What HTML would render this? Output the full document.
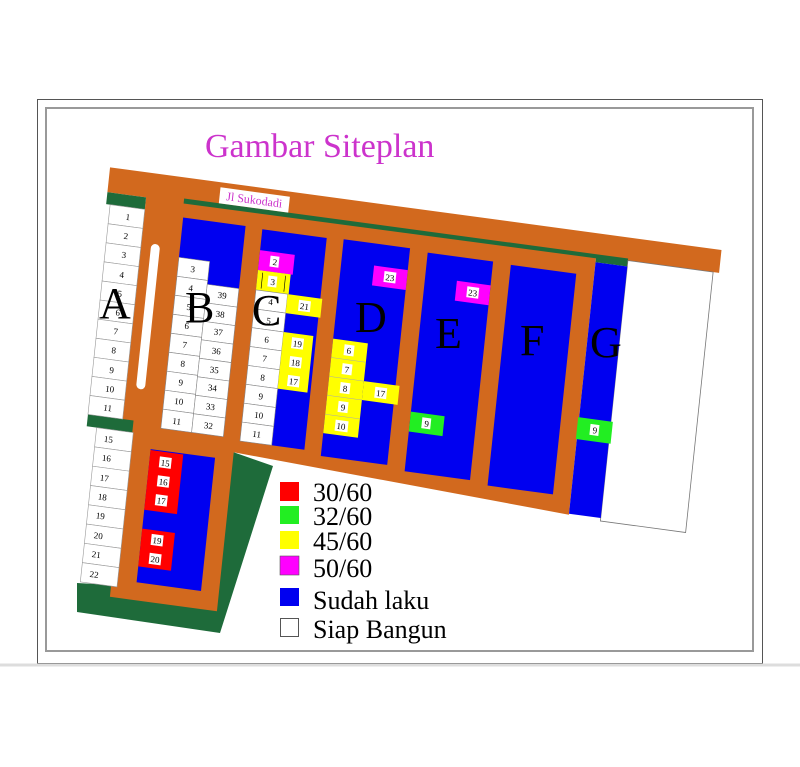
<!DOCTYPE html>
<html><head><meta charset="utf-8"><style>
html,body{margin:0;padding:0;background:#fff;}
svg{display:block;}
text{font-family:"Liberation Serif",serif;}
</style></head><body>
<svg width="800" height="767" viewBox="0 0 800 767" xmlns="http://www.w3.org/2000/svg">
<rect x="0" y="0" width="800" height="767" fill="#fff"/>
<!-- frame -->
<rect x="37.5" y="99.5" width="725" height="564" fill="none" stroke="#555" stroke-width="1"/>
<rect x="46" y="108" width="707" height="543" fill="none" stroke="#999" stroke-width="2"/>
<line x1="0" y1="665" x2="800" y2="665" stroke="#ddd" stroke-width="3"/>
<text x="205" y="157" font-size="34" fill="#cc33cc">Gambar Siteplan</text>

<!-- green bottom -->
<polygon points="77,583 112,585 233,452 273,466 220,633 77,612" fill="#1e6b3a"/>

<g transform="matrix(0.991,0.134,-0.105,0.994,115,168)">
  <!-- orange body -->
  <polygon points="-5,0 612,0 612,23 488,23 488,283 148,266 148,426 40,426 40,258 34,258 34,25 -5,25" fill="#d2691e"/>
  <!-- green strips -->
  <rect x="-5" y="25" width="39" height="12" fill="#1e6b3a"/>
  <rect x="-1" y="248" width="46" height="12" fill="#1e6b3a"/>
  <rect x="488" y="23" width="32" height="6" fill="#1e6b3a"/>
  <polygon points="72,21 520,21 520,25 72,26" fill="#1e6b3a"/>
  <!-- white area right -->
  <rect x="520" y="23" width="86" height="262" fill="#fff" stroke="#777" stroke-width="0.8"/>
  <!-- Jl Sukodadi -->
  <rect x="107" y="5" width="70" height="16" fill="#fff"/>
  <text x="142" y="17" font-size="12" fill="#cc33cc" text-anchor="middle">Jl Sukodadi</text>
  <!-- pill -->
  <rect x="44" y="70" width="9" height="146" rx="4.5" fill="#fff"/>

  <!-- A column lots -->
  <g fill="#fff" stroke="#999" stroke-width="0.6">
    <rect x="-1" y="37" width="35" height="19.2"/><rect x="-1" y="56.2" width="35" height="19.2"/>
    <rect x="-1" y="75.4" width="35" height="19.2"/><rect x="-1" y="94.6" width="35" height="19.2"/>
    <rect x="-1" y="113.8" width="35" height="19.2"/><rect x="-1" y="133" width="35" height="19.2"/>
    <rect x="-1" y="152.2" width="35" height="19.2"/><rect x="-1" y="171.4" width="35" height="19.2"/>
    <rect x="-1" y="190.6" width="35" height="19.2"/><rect x="-1" y="209.8" width="35" height="19.2"/>
    <rect x="-1" y="229" width="35" height="19"/>
  </g>
  <g fill="#fff" stroke="#999" stroke-width="0.6" transform="translate(6,0)">
    <rect x="3" y="260" width="37" height="19.4"/><rect x="3" y="279.4" width="37" height="19.4"/>
    <rect x="3" y="298.8" width="37" height="19.4"/><rect x="3" y="318.2" width="37" height="19.4"/>
    <rect x="3" y="337.6" width="37" height="19.4"/><rect x="3" y="357" width="37" height="19.4"/>
    <rect x="3" y="376.4" width="37" height="19.4"/><rect x="3" y="395.8" width="37" height="19.4"/>
  </g>
  <g font-size="9" fill="#000" text-anchor="middle">
    <text x="18" y="50">1</text><text x="18" y="69">2</text><text x="18" y="88">3</text><text x="18" y="108">4</text>
    <text x="18" y="127">5</text><text x="18" y="146">6</text><text x="18" y="165">7</text><text x="18" y="184">8</text>
    <text x="18" y="204">9</text><text x="18" y="223">10</text><text x="18" y="242">11</text>
    <text x="22" y="273">15</text><text x="22" y="292">16</text><text x="22" y="312">17</text><text x="22" y="331">18</text>
    <text x="22" y="350">19</text><text x="22" y="370">20</text><text x="22" y="389">21</text><text x="22" y="409">22</text>
  </g>

  <!-- B block -->
  <rect x="73" y="40" width="63" height="212" fill="#0000f0"/>
  <g fill="#fff" stroke="#888" stroke-width="0.6">
    <rect x="73" y="80" width="31" height="19.1"/><rect x="73" y="99.1" width="31" height="19.1"/>
    <rect x="73" y="118.2" width="31" height="19.1"/><rect x="73" y="137.3" width="31" height="19.1"/>
    <rect x="73" y="156.4" width="31" height="19.1"/><rect x="73" y="175.5" width="31" height="19.1"/>
    <rect x="73" y="194.6" width="31" height="19.1"/><rect x="73" y="213.7" width="31" height="19.1"/>
    <rect x="73" y="232.8" width="31" height="19.2"/>
    <rect x="104" y="103" width="32" height="18.6"/><rect x="104" y="121.6" width="32" height="18.6"/>
    <rect x="104" y="140.2" width="32" height="18.6"/><rect x="104" y="158.8" width="32" height="18.6"/>
    <rect x="104" y="177.4" width="32" height="18.6"/><rect x="104" y="196" width="32" height="18.6"/>
    <rect x="104" y="214.6" width="32" height="18.6"/><rect x="104" y="233.2" width="32" height="18.8"/>
  </g>
  <g font-size="9" fill="#000" text-anchor="middle">
    <text x="88" y="93">3</text><text x="88" y="112">4</text><text x="88" y="131">5</text><text x="88" y="150">6</text>
    <text x="88" y="169">7</text><text x="88" y="188">8</text><text x="88" y="207">9</text><text x="88" y="226">10</text><text x="88" y="246">11</text>
    <text x="120" y="115">39</text><text x="120" y="134">38</text><text x="120" y="152">37</text><text x="120" y="171">36</text>
    <text x="120" y="190">35</text><text x="120" y="208">34</text><text x="120" y="227">33</text><text x="120" y="246">32</text>
  </g>

  <!-- C block -->
  <rect x="153" y="41" width="65" height="213" fill="#0000f0"/>
  <rect x="153" y="62" width="35" height="20" fill="#ff00ff"/>
  <rect x="153" y="82" width="33" height="20" fill="#ffff00"/>
  <line x1="158" y1="84" x2="158" y2="100" stroke="#000" stroke-width="0.6"/>
  <line x1="181" y1="84" x2="181" y2="100" stroke="#000" stroke-width="0.6"/>
  <g fill="#fff" stroke="#888" stroke-width="0.6">
    <rect x="153" y="102" width="32" height="19"/><rect x="153" y="121" width="32" height="19"/>
    <rect x="153" y="140" width="32" height="19"/><rect x="153" y="159" width="32" height="19"/>
    <rect x="153" y="178" width="32" height="19"/><rect x="153" y="197" width="32" height="19"/>
    <rect x="153" y="216" width="32" height="19"/><rect x="153" y="235" width="32" height="19"/>
  </g>
  <rect x="185" y="102" width="35" height="19" fill="#ffff00"/>
  <rect x="185" y="140" width="30" height="57" fill="#ffff00"/>
  <g fill="#fff"><rect x="164" y="66" width="9" height="11"/><rect x="164" y="86" width="9" height="11"/>
  <rect x="197" y="106" width="12" height="11"/><rect x="194" y="144" width="12" height="11"/>
  <rect x="194" y="163" width="12" height="11"/><rect x="194" y="182" width="12" height="11"/></g>
  <g font-size="9" fill="#000" text-anchor="middle">
    <text x="169" y="75">2</text><text x="169" y="95">3</text>
    <text x="169" y="115">4</text><text x="169" y="134">5</text><text x="169" y="153">6</text><text x="169" y="172">7</text>
    <text x="169" y="191">8</text><text x="169" y="210">9</text><text x="169" y="229">10</text><text x="169" y="248">11</text>
    <text x="203" y="115">21</text><text x="200" y="153">19</text><text x="200" y="172">18</text><text x="200" y="191">17</text>
  </g>

  <!-- D block -->
  <rect x="235" y="40" width="67" height="218" fill="#0000f0"/>
  <rect x="268" y="62" width="34" height="20" fill="#ff00ff"/>
  <rect x="235" y="140" width="35" height="95" fill="#ffff00"/>
  <rect x="270" y="178" width="36" height="19" fill="#ffff00"/>
  <g stroke="#aaa" stroke-width="0.5"><line x1="235" y1="159" x2="270" y2="159"/><line x1="235" y1="178" x2="270" y2="178"/><line x1="235" y1="197" x2="270" y2="197"/><line x1="235" y1="216" x2="270" y2="216"/></g>
  <g fill="#fff"><rect x="279" y="66" width="12" height="11"/><rect x="247" y="144" width="10" height="11"/>
  <rect x="247" y="163" width="10" height="11"/><rect x="247" y="182" width="10" height="11"/>
  <rect x="247" y="201" width="10" height="11"/><rect x="246" y="220" width="13" height="11"/><rect x="282" y="182" width="12" height="11"/></g>
  <g font-size="9" fill="#000" text-anchor="middle">
    <text x="285" y="75">23</text><text x="252" y="153">6</text><text x="252" y="172">7</text><text x="252" y="191">8</text>
    <text x="252" y="210">9</text><text x="252" y="229">10</text><text x="288" y="191">17</text>
  </g>

  <!-- E block -->
  <rect x="320" y="42" width="66" height="220" fill="#0000f0"/>
  <rect x="352" y="66" width="34" height="20" fill="#ff00ff"/>
  <rect x="320" y="202" width="34" height="20" fill="#22ee22"/>
  <g fill="#fff"><rect x="363" y="70" width="12" height="11"/><rect x="332" y="206" width="9" height="11"/></g>
  <g font-size="9" fill="#000" text-anchor="middle"><text x="369" y="79">23</text><text x="337" y="215">9</text></g>

  <!-- F block -->
  <rect x="404" y="43" width="66" height="222" fill="#0000f0"/>

  <!-- G block -->
  <rect x="488" y="29" width="32" height="253" fill="#0000f0"/>
  <rect x="487" y="185" width="35" height="22" fill="#22ee22"/>
  <rect x="500" y="190" width="9" height="11" fill="#fff"/>
  <text x="505" y="199" font-size="9" text-anchor="middle">9</text>

  <!-- left bottom block 15-20 -->
  <rect x="65" y="274" width="65" height="134" fill="#0000f0"/>
  <rect x="65" y="275" width="33" height="60" fill="#ff0000"/>
  <rect x="65" y="354" width="33" height="38" fill="#ff0000"/>
  <g fill="#fff"><rect x="75" y="280" width="12" height="11"/><rect x="75" y="299" width="12" height="11"/>
  <rect x="75" y="318" width="12" height="11"/><rect x="75" y="358" width="12" height="11"/><rect x="75" y="377" width="12" height="11"/></g>
  <g font-size="9" fill="#000" text-anchor="middle">
    <text x="81" y="289">15</text><text x="81" y="308">16</text><text x="81" y="327">17</text>
    <text x="81" y="367">19</text><text x="81" y="386">20</text>
  </g>
</g>

<!-- block letters -->
<g font-size="44" fill="#000">
  <text x="99" y="318">A</text><text x="185" y="322">B</text><text x="252" y="325">C</text>
  <text x="355" y="332">D</text><text x="435" y="348">E</text><text x="520" y="355">F</text><text x="590" y="357">G</text>
</g>

<!-- legend -->
<rect x="280" y="482" width="19" height="19" fill="#ff0000"/>
<rect x="280" y="506" width="19" height="18" fill="#22ee22"/>
<rect x="280" y="531" width="19" height="18" fill="#ffff00"/>
<rect x="280" y="556" width="19" height="19" fill="#ff00ff" stroke="#555" stroke-width="0.6"/>
<rect x="280" y="588" width="19" height="18" fill="#0000f0"/>
<rect x="280.5" y="618.5" width="18" height="18" fill="#fff" stroke="#555" stroke-width="1"/>
<g font-size="26" fill="#000">
  <text x="313" y="501">30/60</text><text x="313" y="525">32/60</text><text x="313" y="550">45/60</text>
  <text x="313" y="577">50/60</text><text x="313" y="609">Sudah laku</text><text x="313" y="638">Siap Bangun</text>
</g>
</svg>
</body></html>
